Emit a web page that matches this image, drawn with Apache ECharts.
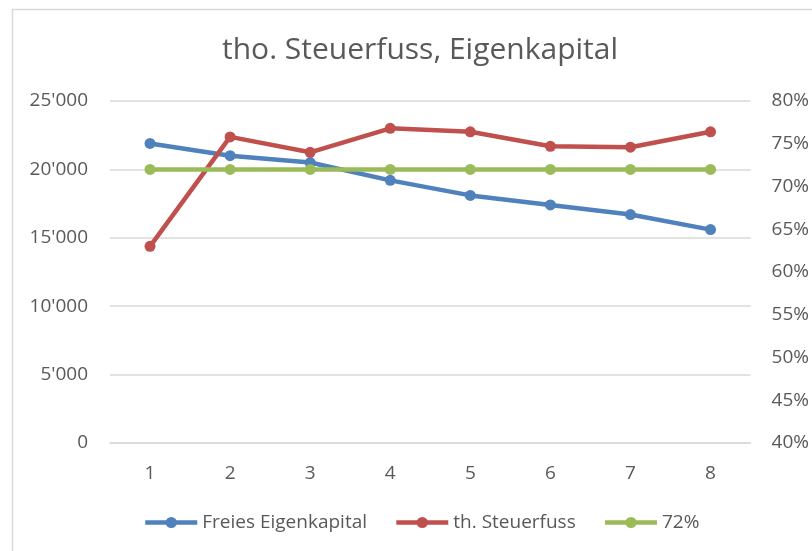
<!DOCTYPE html>
<html>
<head>
<meta charset="utf-8">
<title>tho. Steuerfuss, Eigenkapital</title>
<script src="https://cdn.jsdelivr.net/npm/echarts@6/dist/echarts.min.js"></script>
<style>
html,body{margin:0;padding:0;background:#fff;}
#main{width:812px;height:551px;}
</style>
</head>
<body>
<div id="main"></div>
<script>
// Daten
var kategorien = ['1', '2', '3', '4', '5', '6', '7', '8'];
var freiesEigenkapital = [21900, 21000, 20500, 19200, 18100, 17400, 16700, 15600];
var steuerfuss = [63.0, 75.8, 74.0, 76.8, 76.4, 74.7, 74.6, 76.4];
var grenze72 = [72, 72, 72, 72, 72, 72, 72, 72];
var serienNamen = ['Freies Eigenkapital', 'th. Steuerfuss', '72%'];

var schrift = '"Open Sans", sans-serif';
var textFarbe = '#595959';

function tausender(v){
	return String(v).replace(/\B(?=(\d{3})+(?!\d))/g, "'");
}

var chart = echarts.init(document.getElementById('main'));
var option = {
	backgroundColor: '#fff',
	animation: false,
	textStyle: {fontFamily: schrift},
	title: {
		text: 'tho. Steuerfuss, Eigenkapital',
		left: 217,
		top: 30,
		textStyle: {color: textFarbe, fontSize: 30, fontWeight: 'normal', fontFamily: schrift}
	},
	graphic: [{
		type: 'rect',
		shape: {x: 12.5, y: 9.5, width: 900, height: 700},
		style: {fill: 'none', stroke: '#D9D9D9', lineWidth: 1.5},
		silent: true
	}],
	legend: {
		left: 138,
		top: 508,
		itemWidth: 52,
		itemHeight: 14,
		itemGap: 27,
		lineStyle: {width: 4.5},
		textStyle: {color: textFarbe, fontSize: 19, fontFamily: schrift},
		data: serienNamen
	},
	grid: {left: 110, right: 61, top: 101, bottom: 108},
	xAxis: {
		type: 'category',
		data: kategorien,
		axisTick: {show: false},
		axisLine: {lineStyle: {color: '#D9D9D9', width: 1.5}},
		axisLabel: {color: textFarbe, fontSize: 19, margin: 21, fontFamily: schrift}
	},
	yAxis: [{
		type: 'value',
		min: 0,
		max: 25000,
		interval: 5000,
		axisLine: {show: false},
		axisTick: {show: false},
		splitLine: {lineStyle: {color: '#D9D9D9', width: 1.5}},
		axisLabel: {color: textFarbe, fontSize: 19, margin: 22, fontFamily: schrift, formatter: tausender}
	}, {
		type: 'value',
		min: 40,
		max: 80,
		interval: 5,
		alignTicks: false,
		axisLine: {show: false},
		axisTick: {show: false},
		splitLine: {show: false},
		axisLabel: {color: textFarbe, fontSize: 19, margin: 21, fontFamily: schrift, formatter: '{value}%'}
	}],
	series: [{
		name: serienNamen[0],
		type: 'line',
		yAxisIndex: 0,
		data: freiesEigenkapital,
		symbol: 'circle',
		symbolSize: 11,
		color: '#4F81BD',
		lineStyle: {width: 4.5, color: '#4F81BD'}
	}, {
		name: serienNamen[1],
		type: 'line',
		yAxisIndex: 1,
		data: steuerfuss,
		symbol: 'circle',
		symbolSize: 11,
		color: '#C0504D',
		lineStyle: {width: 4.5, color: '#C0504D'}
	}, {
		name: serienNamen[2],
		type: 'line',
		yAxisIndex: 1,
		data: grenze72,
		symbol: 'circle',
		symbolSize: 11,
		color: '#9BBB59',
		lineStyle: {width: 4.5, color: '#9BBB59'}
	}]
};
chart.setOption(option);
</script>
</body>
</html>
